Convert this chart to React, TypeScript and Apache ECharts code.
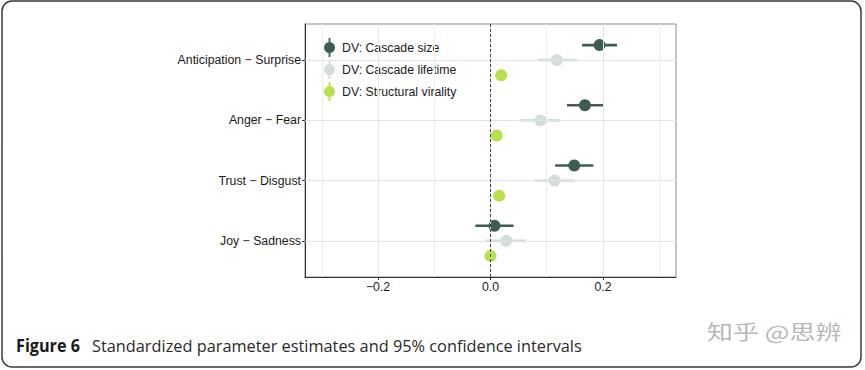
import React, { useEffect, useRef } from "react";
import * as echarts from "echarts";

const categories = ["Joy − Sadness", "Trust − Disgust", "Anger − Fear", "Anticipation − Surprise"];
const seriesNames = ["DV: Cascade size", "DV: Cascade lifetime", "DV: Structural virality"];
const seriesColors = ["#3e5d50", "#d3dedb", "#b6e04c"];
const dodge = [0.25, 0, -0.25];

// [estimate, low, high] per category (same order as categories)
const cascadeSize = [
  [0.007, -0.027, 0.041],
  [0.149, 0.115, 0.183],
  [0.168, 0.136, 0.201],
  [0.194, 0.163, 0.225],
];
const cascadeLifetime = [
  [0.028, -0.008, 0.063],
  [0.114, 0.078, 0.15],
  [0.089, 0.053, 0.124],
  [0.118, 0.084, 0.154],
];
const structuralVirality = [
  [0.0, -0.003, 0.003],
  [0.0155, 0.012, 0.019],
  [0.011, 0.008, 0.014],
  [0.019, 0.016, 0.022],
];
const allSeries = [cascadeSize, cascadeLifetime, structuralVirality];

const xTicks = [-0.2, 0, 0.2];
const xMajorGrid = [-0.2, 0, 0.2];
const xMinorGrid = [-0.3, -0.1, 0.1, 0.3];
const yTicks = [1, 2, 3, 4];

const legendIcon =
  "path://M4.6,0H6.4V19H4.6Z M0,9.5A5.5,5.5 0 1,1 11,9.5A5.5,5.5 0 1,1 0,9.5Z";

export default function App() {
  const ref = useRef<HTMLDivElement>(null);
  useEffect(() => {
    if (!ref.current) return;
    const chart = echarts.init(ref.current, undefined, { renderer: "svg" });

    const pointSeries = allSeries.map((rows, si) => ({
      type: "custom",
      name: seriesNames[si],
      z: 3,
      itemStyle: { color: seriesColors[si] },
      data: rows.map((r, ci) => [r[0], yTicks[ci] + dodge[si], r[1], r[2]]),
      encode: { x: [0, 2, 3], y: 1 },
      renderItem: (params: any, api: any) => {
        const y = api.value(1);
        const p = api.coord([api.value(0), y]);
        const l = api.coord([api.value(2), y]);
        const h = api.coord([api.value(3), y]);
        const c = seriesColors[si];
        return {
          type: "group",
          children: [
            {
              type: "line",
              shape: { x1: l[0], y1: l[1], x2: h[0], y2: h[1] },
              style: { stroke: c, lineWidth: 2.6 },
            },
            {
              type: "circle",
              shape: { cx: p[0], cy: p[1], r: 6 },
              style: { fill: c },
            },
          ],
        };
      },
    }));

    const gridSeries = {
      type: "line",
      data: [],
      z: 1,
      silent: true,
      markLine: {
        silent: true,
        symbol: "none",
        label: { show: false },
        animation: false,
        data: [
          ...xMinorGrid.map((v) => ({ xAxis: v, lineStyle: { color: "#f0f0f0", width: 1, type: "solid" } })),
          ...xMajorGrid.map((v) => ({ xAxis: v, lineStyle: { color: "#e4e4e4", width: 1, type: "solid" } })),
          ...yTicks.map((v) => ({ yAxis: v, lineStyle: { color: "#e4e4e4", width: 1, type: "solid" } })),
        ],
      },
    };

    const zeroSeries = {
      type: "line",
      data: [],
      z: 5,
      silent: true,
      markLine: {
        silent: true,
        symbol: "none",
        label: { show: false },
        animation: false,
        z: 5,
        data: [{ xAxis: 0, lineStyle: { color: "#444", width: 1, type: [3, 2] } }],
      },
    };

    chart.setOption({
      animation: false,
      backgroundColor: "#ffffff",
      grid: {
        left: 305,
        top: 24,
        width: 371,
        height: 253,
        show: true,
        borderColor: "#8a8a8a",
        borderWidth: 1,
        backgroundColor: "transparent",
      },
      xAxis: {
        type: "value",
        min: -0.33,
        max: 0.33,
        splitLine: { show: false },
        axisLine: { show: true, onZero: false, lineStyle: { color: "#333", width: 1 } },
        axisTick: { show: true, customValues: xTicks, length: 3, lineStyle: { color: "#333" } },
        axisLabel: {
          customValues: xTicks,
          margin: 4,
          color: "#1a1a1a",
          fontSize: 12.3,
          fontFamily: "Liberation Sans, Arial, sans-serif",
          formatter: (v: number) => (v < 0 ? "\u2212" : "") + Math.abs(v).toFixed(1),
        },
      },
      yAxis: {
        type: "value",
        min: 0.4,
        max: 4.6,
        splitLine: { show: false },
        axisLine: { show: true, onZero: false, lineStyle: { color: "#333", width: 1 } },
        axisTick: { show: true, customValues: yTicks, length: 3, lineStyle: { color: "#333" } },
        axisLabel: {
          customValues: yTicks,
          margin: 4,
          color: "#1a1a1a",
          fontSize: 12.3,
          fontFamily: "Liberation Sans, Arial, sans-serif",
          formatter: (v: number) => categories[Math.round(v) - 1] ?? "",
        },
      },
      legend: {
        orient: "vertical",
        left: 319,
        top: 33,
        itemWidth: 11,
        itemHeight: 19,
        itemGap: 3,
        selectedMode: false,
        textStyle: {
          color: "#1a1a1a",
          fontSize: 12.3,
          fontFamily: "Liberation Sans, Arial, sans-serif",
          padding: [0, 0, 0, 2],
        },
        data: seriesNames.map((n, i) => ({ name: n, icon: legendIcon, itemStyle: { color: seriesColors[i] } })),
      },
      graphic: [
        {
          type: "rect",
          shape: { x: 2, y: 1, width: 859, height: 366, r: 10 },
          style: { fill: "none", stroke: "#3a3a3a", lineWidth: 1.5 },
          silent: true,
        },
        {
          type: "text",
          x: 16,
          y: 345,
          scaleX: 0.9,
          style: {
            text: "Figure 6",
            fill: "#1a1a1a",
            font: 'bold 18px "Open Sans", sans-serif',
            verticalAlign: "middle",
          },
        },
        {
          type: "text",
          x: 92,
          y: 345,
          scaleX: 0.96,
          style: {
            text: "Standardized parameter estimates and 95% confidence intervals",
            fill: "#2a2a2a",
            font: '17px "Open Sans", sans-serif',
            verticalAlign: "middle",
          },
        },
        {
          type: "text",
          x: 707,
          y: 331,
          scaleX: 1.3,
          style: {
            text: "知乎 @思辨",
            fill: "#b8b8b8",
            font: '20px "Noto Sans CJK SC", sans-serif',
            verticalAlign: "middle",
          },
        },
      ],
      series: [gridSeries, ...pointSeries, zeroSeries],
    });
    return () => chart.dispose();
  }, []);
  return (
    <div
      ref={ref}
      style={{ position: "absolute", left: 0, top: 0, width: 865, height: 370 }}
    />
  );
}
